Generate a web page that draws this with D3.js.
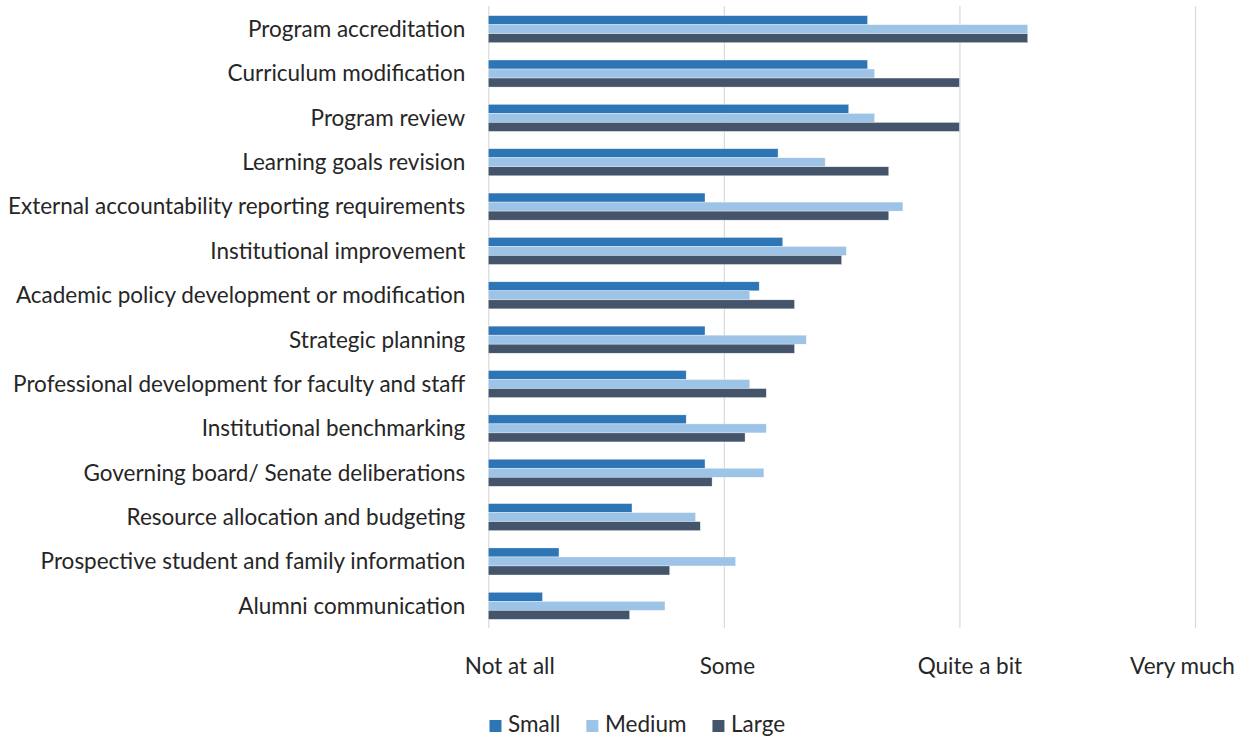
<!DOCTYPE html>
<html>
<head>
<meta charset="utf-8">
<script src="https://cdn.jsdelivr.net/npm/d3@7"></script>
<style>
  body { margin: 0; background: #fff; }
  text { font-family: Lato, "Open Sans", sans-serif; fill: #262626; }
</style>
</head>
<body>
<div id="chart"></div>
<script>
// Categories, top to bottom
const categories = [
  "Program accreditation",
  "Curriculum modification",
  "Program review",
  "Learning goals revision",
  "External accountability reporting requirements",
  "Institutional improvement",
  "Academic policy development or modification",
  "Strategic planning",
  "Professional development for faculty and staff",
  "Institutional benchmarking",
  "Governing board/ Senate deliberations",
  "Resource allocation and budgeting",
  "Prospective student and family information",
  "Alumni communication"
];

// Series values (1 = Not at all ... 4 = Very much)
const small  = [2.61, 2.61, 2.53, 2.23, 1.92, 2.25, 2.15, 1.92, 1.84, 1.84, 1.92, 1.61, 1.30, 1.23];
const medium = [3.29, 2.64, 2.64, 2.43, 2.76, 2.52, 2.11, 2.35, 2.11, 2.18, 2.17, 1.88, 2.05, 1.75];
const large  = [3.29, 3.00, 3.00, 2.70, 2.70, 2.50, 2.30, 2.30, 2.18, 2.09, 1.95, 1.90, 1.77, 1.60];

const seriesNames = ["Small", "Medium", "Large"];
const tickValues = [1, 2, 3, 4];
const tickLabels = ["Not at all", "Some", "Quite a bit", "Very much"];

const svgWidth = 1246, svgHeight = 738;
const margin = {top: 7, right: 51, bottom: 110, left: 488.3};
const fontSize = 22.5;

const colors = ["#2E75B6", "#9DC3E6", "#44546A"];
// Excel placed the axis labels a little off their gridlines
const tickLabelShift = [21, 3, 10, -13];

const seriesData = [small, medium, large];

const svg = d3.select("#chart").append("svg")
  .attr("width", svgWidth)
  .attr("height", svgHeight);

// Scales
const x = d3.scaleLinear()
  .domain([1, 4])
  .range([margin.left, svgWidth - margin.right]);

const y = d3.scaleBand()
  .domain(categories)
  .range([margin.top, svgHeight - margin.bottom])
  .paddingInner(0.39)
  .paddingOuter(0.195);

const ySub = d3.scaleBand()
  .domain(seriesNames)
  .range([0, y.bandwidth()]);

// Gridlines
const grid = svg.append("g")
  .attr("class", "grid")
  .attr("transform", "translate(0," + (svgHeight - margin.bottom) + ")")
  .call(d3.axisBottom(x)
    .tickValues(tickValues)
    .tickSize(-(svgHeight - margin.bottom - margin.top + 1))
    .tickFormat(""));
grid.select(".domain").remove();
grid.selectAll("line").attr("stroke", "#D9D9D9").attr("stroke-width", 1.2);

// Bars
const rows = svg.selectAll(".row")
  .data(categories)
  .enter().append("g")
    .attr("class", "row")
    .attr("transform", d => "translate(0," + y(d) + ")");

rows.selectAll("rect")
  .data((d, i) => seriesNames.map((s, j) => ({series: s, value: seriesData[j][i], idx: j})))
  .enter().append("rect")
    .attr("x", x(1))
    .attr("y", d => ySub(d.series))
    .attr("width", d => x(d.value) - x(1))
    .attr("height", ySub.bandwidth())
    .attr("fill", d => colors[d.idx])
    .attr("stroke", "#fff")
    .attr("stroke-width", 0.5)
    .attr("stroke-opacity", 0.7);

// Category labels
const yAxis = svg.append("g")
  .attr("transform", "translate(" + (margin.left - 23) + ",0)")
  .call(d3.axisLeft(y).tickSize(0).tickPadding(0));
yAxis.select(".domain").remove();
yAxis.selectAll("text")
  .style("font-size", fontSize + "px")
  .attr("dy", "0.35em")
  .style("font-family", "Lato, 'Open Sans', sans-serif")
  .attr("fill", "#262626");

// Value axis labels
const xAxis = svg.append("g")
  .attr("transform", "translate(0,674)")
  .call(d3.axisBottom(x).tickValues(tickValues).tickSize(0).tickPadding(0)
    .tickFormat((d, i) => tickLabels[i]));
xAxis.select(".domain").remove();
xAxis.selectAll("text")
  .attr("dy", 0)
  .attr("dx", (d, i) => tickLabelShift[i])
  .style("font-size", fontSize + "px")
  .style("font-family", "Lato, 'Open Sans', sans-serif")
  .attr("fill", "#262626");

// Legend
const legend = svg.append("g").attr("class", "legend");
let cursor = 0;
seriesNames.forEach((name, i) => {
  const item = legend.append("g").attr("transform", "translate(" + cursor + ",0)");
  item.append("rect")
    .attr("x", 0).attr("y", -12)
    .attr("width", 12).attr("height", 12)
    .attr("fill", colors[i]);
  const t = item.append("text")
    .attr("x", 18.6)
    .attr("y", 0)
    .style("font-size", fontSize + "px")
    .text(name);
  cursor += 18.6 + t.node().getComputedTextLength() + 26;
});
const legendWidth = cursor - 26;
legend.attr("transform", "translate(" + (637.3 - legendWidth / 2) + ",732)");
</script>
</body>
</html>
